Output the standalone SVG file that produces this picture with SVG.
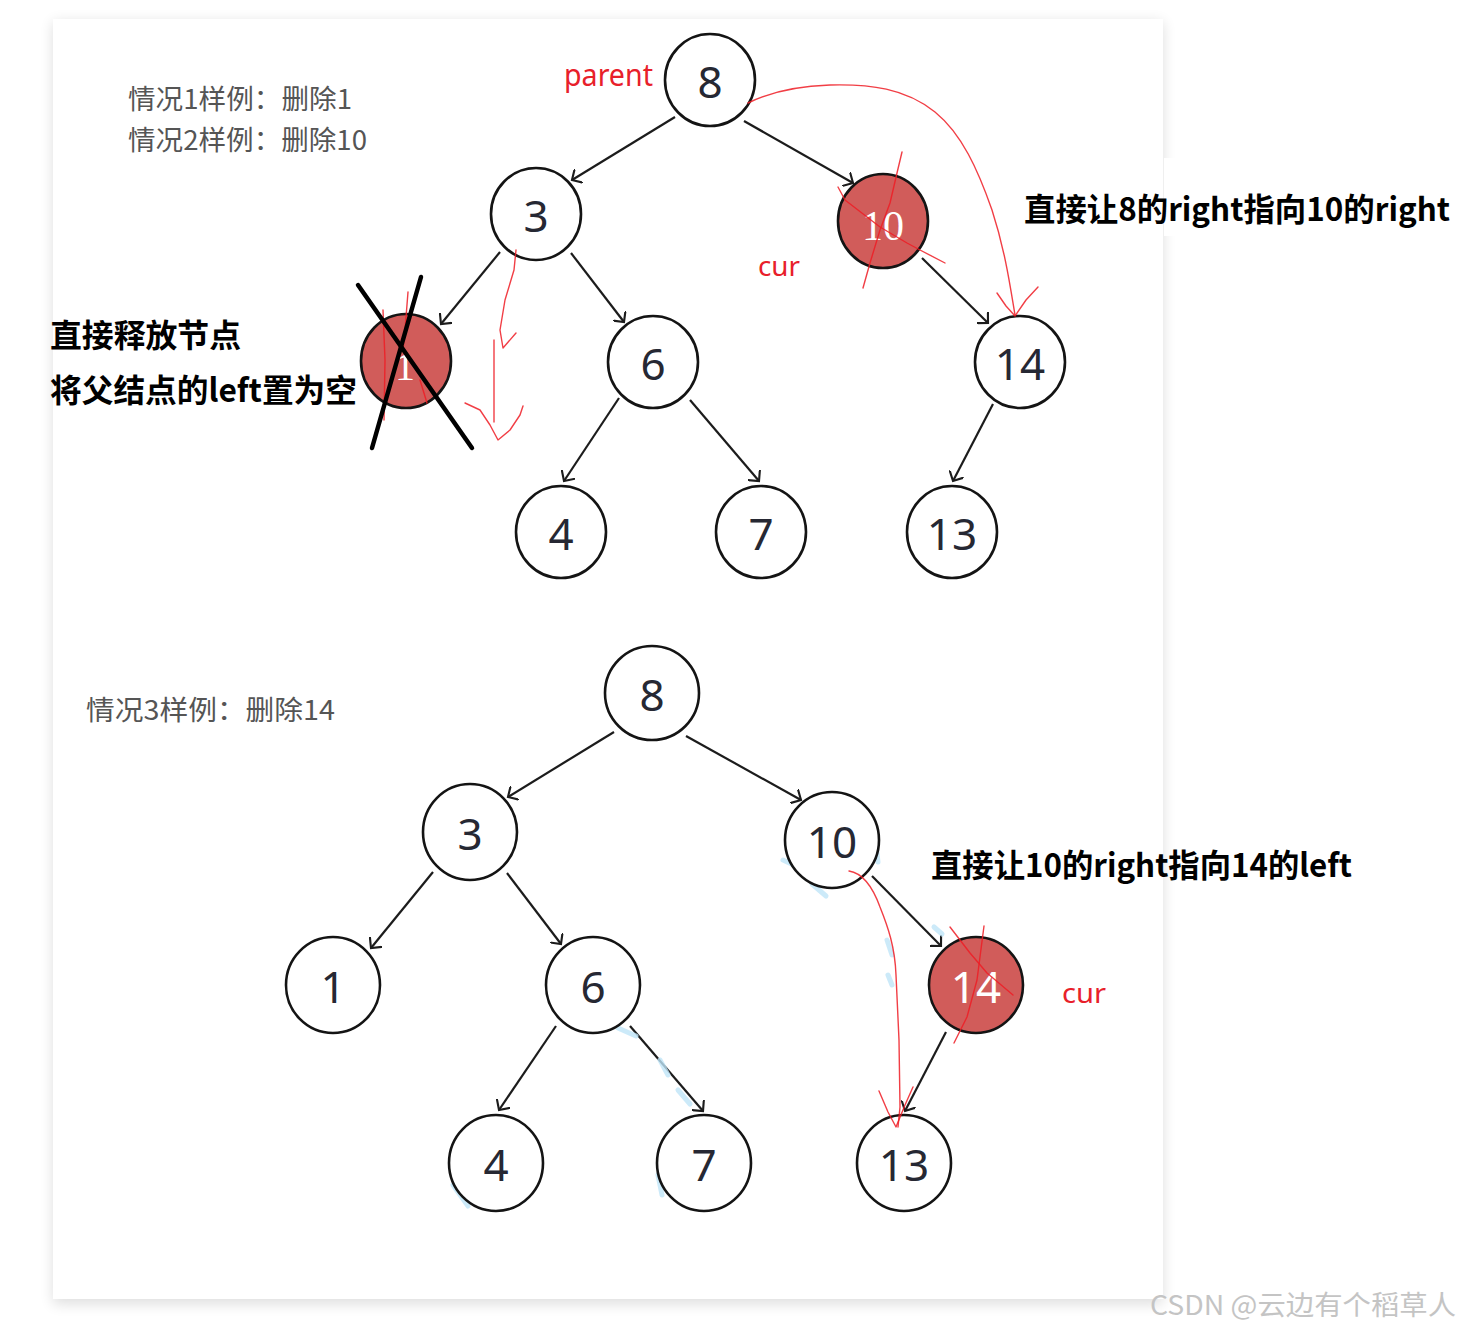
<svg xmlns="http://www.w3.org/2000/svg" width="1461" height="1330" viewBox="0 0 1461 1330">
<defs>
<style>
.node ellipse{fill:#fff;stroke:#141414;stroke-width:2.6}
.node.del ellipse{fill:#d15c5a}
.lbl{font-family:"Noto Sans","Open Sans","DejaVu Sans",sans-serif;font-size:44px;fill:#262833;text-anchor:middle}
.wlbl{fill:#fff}
.edge{stroke:#1c1c1c;stroke-width:2.2;fill:none;marker-end:url(#arr)}
.gray{font-family:"Noto Sans CJK SC","Noto Sans",sans-serif;font-size:27px;fill:#555}
.bold{font-family:"Noto Sans CJK SC","Noto Sans",sans-serif;font-size:32px;font-weight:bold;fill:#000}
.red{font-family:"Noto Sans","Open Sans",sans-serif;fill:#e8202a}
.ink{fill:none;stroke:#ee1c25;stroke-width:1.4;stroke-linecap:round;stroke-linejoin:round;opacity:.85}
.blue{fill:none;stroke:#bfe5f7;stroke-width:5;stroke-linecap:round;opacity:.8}
.cross{stroke:#000;stroke-width:4.5;stroke-linecap:round}
</style>
<marker id="arr" viewBox="0 0 12 12" refX="6" refY="6" markerWidth="16" markerHeight="16" markerUnits="userSpaceOnUse" orient="auto">
<path d="M0,0 L6,6 L0,12" fill="none" stroke="#1c1c1c" stroke-width="1.6"/>
</marker>
<filter id="sh" x="-5%" y="-5%" width="110%" height="110%">
<feGaussianBlur stdDeviation="7"/>
</filter>
</defs>
<rect x="0" y="0" width="1461" height="1330" fill="#fff"/>
<g id="panel">
<rect x="53" y="22" width="1110" height="1282" fill="#000" opacity="0.13" filter="url(#sh)"/>
<rect x="53" y="19" width="1110" height="1280" fill="#fff"/>
<rect x="1164" y="158" width="297" height="78" fill="#fff"/>
</g>

<g id="connectors">
<path class="edge" d="M675,117 L572,180"/>
<path class="edge" d="M744,121 L853,183"/>
<path class="edge" d="M500,252 L441,324"/>
<path class="edge" d="M571,253 L624,322"/>
<path class="edge" d="M922,258 L988,323"/>
<path class="edge" d="M619,398 L564,481"/>
<path class="edge" d="M690,400 L759,481"/>
<path class="edge" d="M993,404 L953,481"/>
<path class="edge" d="M614,732 L508,797"/>
<path class="edge" d="M686,736 L801,800"/>
<path class="edge" d="M433,872 L371,948"/>
<path class="edge" d="M507,873 L561,944"/>
<path class="edge" d="M872,876 L941,946"/>
<path class="edge" d="M556,1026 L499,1110"/>
<path class="edge" d="M630,1026 L703,1111"/>
<path class="edge" d="M946,1032 L905,1111"/>
</g>

<g id="bluemarks">
<path class="blue" d="M783,860 L800,868"/>
<path class="blue" d="M812,884 L826,896"/>
<path class="blue" d="M876,845 L878,862"/>
<path class="blue" d="M887,940 L892,955"/>
<path class="blue" d="M888,975 L892,985"/>
<path class="blue" d="M934,927 L942,934"/>
<path class="blue" d="M618,1028 L636,1036"/>
<path class="blue" d="M660,1060 L668,1075"/>
<path class="blue" d="M678,1090 L690,1104"/>
<path class="blue" d="M710,1118 L722,1126"/>
<path class="blue" d="M740,1140 L746,1158"/>
<path class="blue" d="M658,1175 L662,1195"/>
<path class="blue" d="M453,1185 L468,1206"/>
<path class="blue" d="M512,1206 L524,1200"/>
</g>

<g id="n8a" class="node"><ellipse cx="710" cy="80" rx="45" ry="46"/><text class="lbl" x="710" y="98">8</text></g>
<g id="n3a" class="node"><ellipse cx="536" cy="214" rx="45" ry="46"/><text class="lbl" x="536" y="232">3</text></g>
<g id="n10a" class="node del"><ellipse cx="883" cy="221" rx="45" ry="47"/><text class="lbl wlbl" x="883" y="240" style="font-family:'Liberation Serif',serif;font-size:42px">10</text></g>
<g id="n1a" class="node del"><ellipse cx="406" cy="361" rx="45" ry="47"/><text class="lbl wlbl" x="405" y="380" style="font-family:'Liberation Serif',serif;font-size:40px">1</text></g>
<g id="n6a" class="node"><ellipse cx="653" cy="362" rx="45" ry="46"/><text class="lbl" x="653" y="380">6</text></g>
<g id="n14a" class="node"><ellipse cx="1020" cy="362" rx="45" ry="46"/><text class="lbl" x="1020" y="380">14</text></g>
<g id="n4a" class="node"><ellipse cx="561" cy="532" rx="45" ry="46"/><text class="lbl" x="561" y="550">4</text></g>
<g id="n7a" class="node"><ellipse cx="761" cy="532" rx="45" ry="46"/><text class="lbl" x="761" y="550">7</text></g>
<g id="n13a" class="node"><ellipse cx="952" cy="532" rx="45" ry="46"/><text class="lbl" x="952" y="550">13</text></g>

<g id="n8b" class="node"><ellipse cx="652" cy="693" rx="47" ry="47"/><text class="lbl" x="652" y="711">8</text></g>
<g id="n3b" class="node"><ellipse cx="470" cy="832" rx="47" ry="48"/><text class="lbl" x="470" y="850">3</text></g>
<g id="n10b" class="node"><ellipse cx="832" cy="840" rx="47" ry="48"/><text class="lbl" x="832" y="858">10</text></g>
<g id="n1b" class="node"><ellipse cx="333" cy="985" rx="47" ry="48"/><text class="lbl" x="333" y="1003">1</text></g>
<g id="n6b" class="node"><ellipse cx="593" cy="985" rx="47" ry="48"/><text class="lbl" x="593" y="1003">6</text></g>
<g id="n14b" class="node del"><ellipse cx="976" cy="985" rx="47" ry="48"/><text class="lbl wlbl" x="976" y="1003">14</text></g>
<g id="n4b" class="node"><ellipse cx="496" cy="1163" rx="47" ry="48"/><text class="lbl" x="496" y="1181">4</text></g>
<g id="n7b" class="node"><ellipse cx="704" cy="1163" rx="47" ry="48"/><text class="lbl" x="704" y="1181">7</text></g>
<g id="n13b" class="node"><ellipse cx="904" cy="1163" rx="47" ry="48"/><text class="lbl" x="904" y="1181">13</text></g>

<g id="annotations">
<path class="ink" d="M748,103 C770,92 800,86 830,85 C870,84 905,88 935,112 C962,134 978,170 992,210 C1005,250 1010,285 1015,315"/>
<path class="ink" d="M997,293 L1006,306 L1015,316 L1026,300 L1038,287"/>
<path class="ink" d="M902,152 L897,173 L890,203 L880,230 L870,263 L863,288"/>
<path class="ink" d="M838,187 L845,200 L880,227 L907,243 L920,250 L945,263"/>
<path class="ink" d="M516,250 L514,270 L505,300 L500,330 L503,348 L516,333"/>
<path class="ink" d="M494,340 L494,422"/>
<path class="ink" d="M465,403 L480,410 L490,425 L498,440 L510,430 L520,415 L523,406"/>
<path class="ink" d="M408,292 L405,330 L403,350"/>
<path class="ink" d="M383,310 L385,360 L384,420"/>
<path class="ink" d="M420,380 L427,403"/>
<path class="ink" d="M849,871 C862,873 872,885 880,907 C888,927 895,947 896,975 L899,1040 L900,1107 L898,1127"/>
<path class="ink" d="M879,1091 L888,1112 L896,1127 L905,1105 L913,1087"/>
<path class="ink" d="M950,927 L970,953 L987,973 L1013,995"/>
<path class="ink" d="M984,926 L977,980 L967,1017 L954,1043"/>
<line class="cross" x1="358" y1="285" x2="472" y2="448"/>
<line class="cross" x1="421" y1="277" x2="372" y2="448"/>
</g>

<g id="texts">
<text class="gray" x="128" y="109" textLength="224" lengthAdjust="spacingAndGlyphs">情况1样例：删除1</text>
<text class="gray" x="128" y="150" textLength="239" lengthAdjust="spacingAndGlyphs">情况2样例：删除10</text>
<text class="gray" x="86" y="720" textLength="249" lengthAdjust="spacingAndGlyphs">情况3样例：删除14</text>
<text class="red" x="564" y="86" font-size="30" textLength="89" lengthAdjust="spacingAndGlyphs">parent</text>
<text class="red" x="758" y="276" font-size="28" textLength="42" lengthAdjust="spacingAndGlyphs">cur</text>
<text class="red" x="1062" y="1003" font-size="28" textLength="44" lengthAdjust="spacingAndGlyphs">cur</text>
<text class="bold" x="50" y="347" textLength="191" lengthAdjust="spacingAndGlyphs">直接释放节点</text>
<text class="bold" x="50" y="402" textLength="307" lengthAdjust="spacingAndGlyphs">将父结点的left置为空</text>
<text class="bold" x="1024" y="221" textLength="426" lengthAdjust="spacingAndGlyphs">直接让8的right指向10的right</text>
<text class="bold" x="931" y="877" textLength="421" lengthAdjust="spacingAndGlyphs">直接让10的right指向14的left</text>
<text x="1150" y="1315" font-family="Noto Sans CJK SC,Noto Sans,sans-serif" font-size="27" fill="#c4c4c4" textLength="306" lengthAdjust="spacingAndGlyphs">CSDN @云边有个稻草人</text>
</g>
</svg>
